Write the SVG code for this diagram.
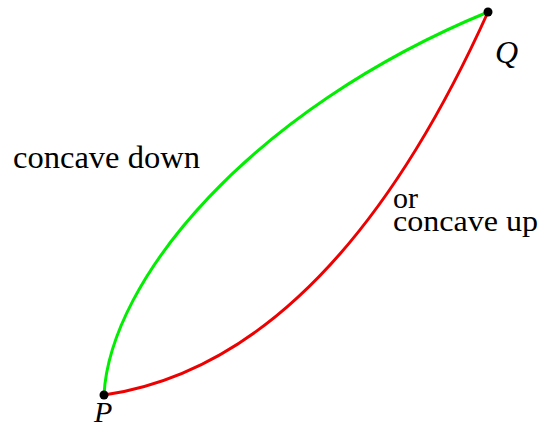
<svg xmlns="http://www.w3.org/2000/svg" width="544" height="430" viewBox="0 0 544 430">
<style>
.c{fill:none;stroke-width:3;stroke-linecap:round}
</style>
<rect width="544" height="430" fill="#fff"/>
<g id="connectors">
<path class="c" stroke="#00ee00" d="M104,395 C110,280 250,110 488,12"/>
<path class="c" stroke="#ee0000" d="M104,395 Q330,362 488,12"/>
</g>
<g id="P"><circle cx="104" cy="395" r="4.5" fill="#000"/><text x="94" y="422" font-size="30" font-style="italic" font-family="Liberation Serif">P</text></g>
<g id="Q"><circle cx="488" cy="12" r="4.5" fill="#000"/><text x="495" y="63" font-size="32" font-style="italic" font-family="Liberation Serif">Q</text></g>
<g id="labels">
<text x="13" y="168" font-size="31" font-family="Liberation Serif" textLength="187" lengthAdjust="spacingAndGlyphs">concave down</text>
<text x="393" y="208" font-size="30" font-family="Liberation Serif">or</text>
<text x="393" y="231" font-size="30" font-family="Liberation Serif" textLength="145" lengthAdjust="spacingAndGlyphs">concave up</text>
</g>
</svg>
